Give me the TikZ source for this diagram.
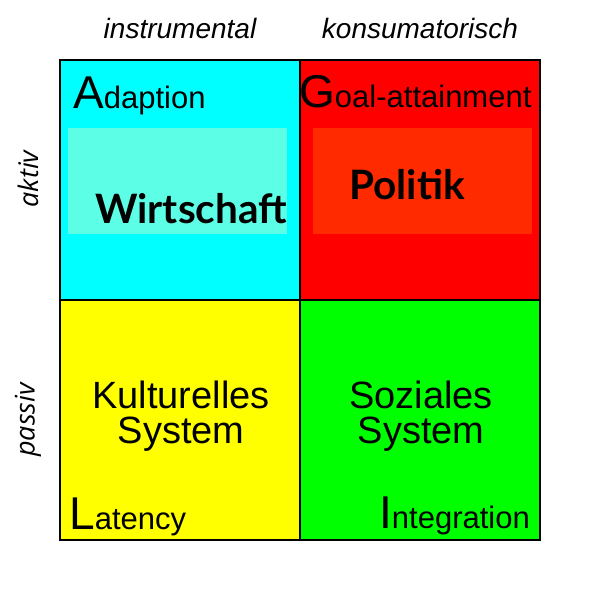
\documentclass[tikz,border=0pt]{standalone}
\usepackage{fontspec}
\setmainfont{Liberation Sans}
\newfontfamily\feldfont{Lato}
\newfontfamily\seitenfont{Open Sans}
\usetikzlibrary{positioning}
\definecolor{feldA}{HTML}{00FFFF}
\definecolor{feldG}{HTML}{FF0000}
\definecolor{feldL}{HTML}{FFFF00}
\definecolor{feldI}{HTML}{00FF00}
\definecolor{innenA}{HTML}{5CFFE6}
\definecolor{innenG}{HTML}{FF2A00}
\newcommand{\grossbuchst}[2]{{\fontsize{46}{46}\selectfont #1}{\fontsize{31}{31}\selectfont #2}}

\begin{document}
\begin{tikzpicture}[x=1pt,y=-1pt,
  kopf/.style={inner sep=0pt,anchor=base,font=\fontsize{28}{28}\selectfont\itshape},
  seite/.style={inner sep=0pt,rotate=90,font=\fontsize{27}{27}\seitenfont\itshape},
  funktion/.style={inner sep=0pt,anchor=base west},
  teilsystem/.style={inner sep=0pt,anchor=base west,font=\fontsize{40.5}{40.5}\feldfont\bfseries},
  system/.style={inner sep=0pt,align=center,font=\fontsize{38}{35}\selectfont}]
  \useasboundingbox (0,0) rectangle (600,600); % 全体の大きさ
  \fill[feldA] (60,60) rectangle (300,300); % 左上の枠（水色）
  \fill[feldG] (300,60) rectangle (540,300); % 右上の枠（赤）
  \fill[feldL] (60,300) rectangle (300,540); % 左下の枠（黄）
  \fill[feldI] (300,300) rectangle (540,540); % 右下の枠（緑）
  \fill[innenA] (68,128) rectangle (287,234); % 左上の中の明るい長方形
  \fill[innenG] (313,128) rectangle (532,234); % 右上の中の明るい長方形
  \draw[line width=2pt] (60,60) rectangle (540,540); % 外枠
  \draw[line width=2pt] (300,60) -- (300,540); % 縦の仕切り
  \draw[line width=2pt] (60,300) -- (540,300); % 横の仕切り
  \node[kopf] (instr) at (180,38) {instrumental}; % 上の見出し（左）
  \node[kopf] (konsum) at (420,38) {konsumatorisch}; % 上の見出し（右）
  \node[seite] (aktiv) at (28,179) {aktiv}; % 左の見出し（上）
  \node[seite] (passiv) at (28,420) {passiv}; % 左の見出し（下）
  \node[funktion] (adaption) at (73,108) {\grossbuchst{A}{daption}};
  \node[funktion] (goal) at (299,107) {\grossbuchst{G}{oal-attainment}};
  \node[funktion] (latency) at (69,529) {\grossbuchst{L}{atency}};
  \node[funktion] (integration) at (379,528) {\grossbuchst{I}{ntegration}};
  \node[teilsystem] (wirtschaft) at (95,223) {Wirtschaft}; % 明るい長方形の中の文字
  \node[teilsystem] (politik) at (349,199) {Politik};
  \node[system] (kultur) at (181,416) {Kulturelles\\System}; % 下の二つの枠の中央の文字
  \node[system] (sozial) at (421,416) {Soziales\\System};
\end{tikzpicture}
\end{document}
